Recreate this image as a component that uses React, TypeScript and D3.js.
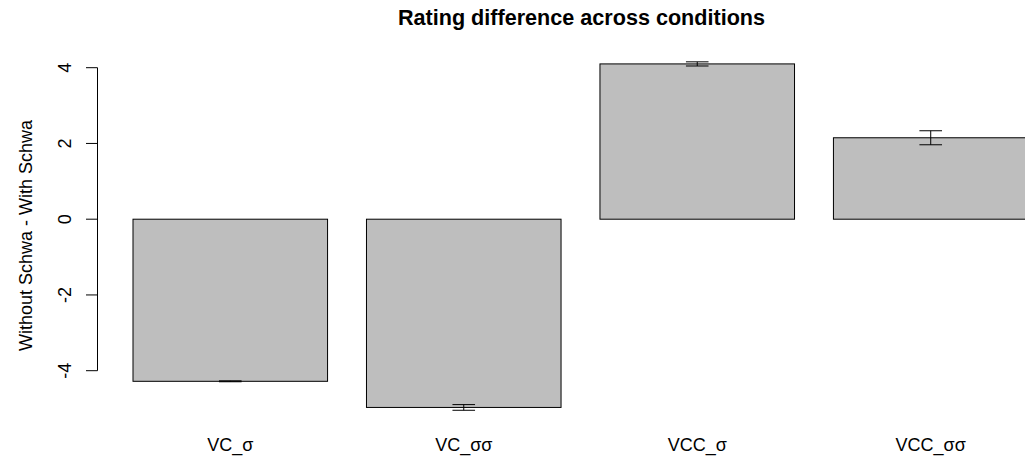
import React from "react";
import * as d3 from "d3";

const categories = ["VC_σ", "VC_σσ", "VCC_σ", "VCC_σσ"];
const means = [-4.28, -4.97, 4.1, 2.15];
const errors = [0.012, 0.075, 0.055, 0.185];
const yTicks = [-4, -2, 0, 2, 4];
const title = "Rating difference across conditions";
const yLabel = "Without Schwa - With Schwa";

const W = 1025;
const H = 458;
const FONT = "'Liberation Sans', Arial, Helvetica, sans-serif";

export default function App() {
  const x = d3
    .scaleBand<string>()
    .domain(categories)
    .range([133, 1028])
    .paddingInner(0.1667)
    .paddingOuter(0);
  const y = d3.scaleLinear().domain([-4, 4]).range([370.7, 67.7]);
  const axisX = 97.5;
  const capHalf = 11.3;

  return (
    <svg
      width={W}
      height={H}
      style={{ position: "absolute", left: 0, top: 0, display: "block", background: "#fff" }}
      fontFamily={FONT}
    >
      <rect x={0} y={0} width={W} height={H} fill="#fff" />
      {/* bars */}
      {categories.map((c, i) => {
        const v = means[i];
        const y0 = y(0);
        const y1 = y(v);
        return (
          <rect
            key={c}
            x={x(c)!}
            y={Math.min(y0, y1)}
            width={x.bandwidth()}
            height={Math.abs(y1 - y0)}
            fill="#bebebe"
            stroke="#000"
            strokeWidth={1}
          />
        );
      })}
      {/* error bars */}
      {categories.map((c, i) => {
        const cx = x(c)! + x.bandwidth() / 2;
        const lo = y(means[i] - errors[i]);
        const hi = y(means[i] + errors[i]);
        return (
          <g key={"e" + c} stroke="#000" strokeWidth={1}>
            <line x1={cx} x2={cx} y1={lo} y2={hi} />
            <line x1={cx - capHalf} x2={cx + capHalf} y1={lo} y2={lo} />
            <line x1={cx - capHalf} x2={cx + capHalf} y1={hi} y2={hi} />
          </g>
        );
      })}
      {/* y axis */}
      <line x1={axisX} x2={axisX} y1={y(-4)} y2={y(4)} stroke="#000" strokeWidth={1} />
      {yTicks.map((t) => (
        <g key={t}>
          <line x1={axisX - 11.5} x2={axisX} y1={y(t)} y2={y(t)} stroke="#000" strokeWidth={1} />
          <text
            transform={`translate(71,${y(t)}) rotate(-90)`}
            textAnchor="middle"
            fontSize={18}
            fill="#000"
          >
            {t}
          </text>
        </g>
      ))}
      {/* category labels */}
      {categories.map((c) => (
        <text
          key={"l" + c}
          x={x(c)! + x.bandwidth() / 2}
          y={451}
          textAnchor="middle"
          fontSize={18}
          fill="#000"
        >
          {c}
        </text>
      ))}
      {/* y label */}
      <text
        transform={`translate(31.5,235.5) rotate(-90)`}
        textAnchor="middle"
        fontSize={18}
        fill="#000"
      >
        {yLabel}
      </text>
      {/* title */}
      <text x={581.5} y={25.3} textAnchor="middle" fontSize={21.6} fontWeight="bold" fill="#000">
        {title}
      </text>
    </svg>
  );
}
